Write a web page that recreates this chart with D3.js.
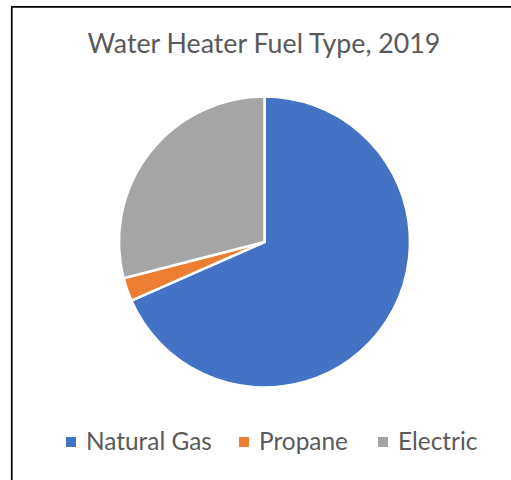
<!DOCTYPE html>
<html><head><meta charset="utf-8">
<script src="https://cdn.jsdelivr.net/npm/d3@7"></script>
<style>body{margin:0;background:#fff;} svg{display:block;}</style>
</head><body>
<svg id="c" width="511" height="480"></svg>
<script>
const title = "Water Heater Fuel Type, 2019";
const categories = ["Natural Gas", "Propane", "Electric"];
const values = [68.4, 2.6, 29.0];
const colors = ["#4472C4", "#ED7D31", "#A5A5A5"];

const svg = d3.select("#c");
const font = "Lato, 'Open Sans', sans-serif";

// chart border (extends beyond the window on right/bottom)
svg.append("path").attr("d", "M11.75,520 V6.75 H560").attr("fill", "none").attr("stroke", "#000").attr("stroke-width", 1.75);

// title
const t = svg.append("text").attr("x", 264).attr("y", 53).attr("text-anchor", "middle")
  .attr("font-family", font).attr("font-size", 24).attr("fill", "#595959").text(title);
const tw = t.node().getComputedTextLength();
t.attr("font-size", 24 * 353 / tw);

// pie
const cx = 264.5, cy = 242, r = 145.5;
const pie = d3.pie().sort(null).value(d => d)(values);
const arc = d3.arc().innerRadius(0).outerRadius(r);
const g = svg.append("g").attr("transform", `translate(${cx},${cy})`);
g.selectAll("path").data(pie).join("path")
  .attr("d", arc).attr("fill", (d, i) => colors[i])
  .attr("stroke", "#fff").attr("stroke-width", 2.5).attr("stroke-linejoin", "miter");

// legend
const legendY = 442;
const markerX = [66, 239, 378];
const lg = svg.append("g");
categories.forEach((c, i) => {
  lg.append("rect").attr("x", markerX[i]).attr("y", legendY - 5).attr("width", 10).attr("height", 10).attr("fill", colors[i]);
  lg.append("text").attr("x", markerX[i] + 20).attr("y", legendY + 8)
    .attr("font-family", font).attr("font-size", 22).attr("fill", "#595959").text(c);
});
// fit legend size from first label width
const first = lg.select("text").node().getComputedTextLength();
lg.selectAll("text").attr("font-size", 22 * 126 / first);
</script>
</body></html>
